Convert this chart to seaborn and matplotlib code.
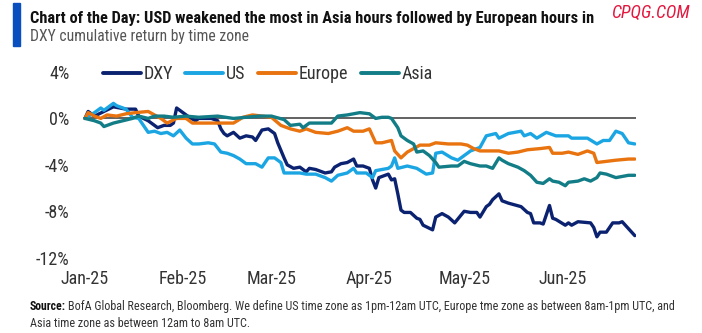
import matplotlib
matplotlib.use("Agg")
import matplotlib.pyplot as plt
import matplotlib.dates as mdates
from matplotlib import font_manager as fm
import numpy as np
import pandas as pd
import seaborn as sns

# Cumulative return of DXY by trading session, % (days counted from 1 Jan 2025)
dxy_days = [0, 1, 3, 6, 9, 11, 13, 16, 17, 20, 21, 23, 25, 27, 28, 29, 31, 33, 35, 36,
            40, 42, 43, 44, 45, 47, 49, 51, 53, 54, 56, 58, 60, 61, 63, 64, 66, 68, 70, 71,
            73, 76, 78, 79, 81, 83, 85, 86, 88, 90, 91, 92, 93, 96, 97, 98, 99, 100, 101, 103,
            105, 106, 107, 110, 111, 113, 115, 117, 120, 122, 124, 125, 127, 128, 129, 131, 132, 134, 138, 140,
            141, 142, 144, 145, 147, 148, 149, 152, 153, 154, 156, 160, 161, 162, 163, 165, 167, 169, 170, 172,
            174]
dxy_vals = [0, 0.6, 0.2, 0.6, 1.0, 0.9, 0.8, 0.8, 0.2, -0.2, -0.4, -0.8, -0.6, -0.6, -0.4, 0.9, 0.5, 0.1, -0.2, 0,
            0, -0.2, -0.9, -1.3, -1.5, -1.2, -1.7, -1.5, -1.6, -1.9, -1.0, -0.9, -1.3, -2.1, -3.4, -4.0, -4.3, -4.2, -4.6, -4.3,
            -4.4, -4.7, -4.6, -4.2, -3.9, -3.8, -3.5, -4.1, -4.1, -4.3, -5.3, -6.0, -5.1, -4.8, -5.3, -5.2, -6.5, -7.9, -8.1, -8.1,
            -8.6, -8.7, -9.2, -9.6, -8.5, -8.2, -8.5, -9.0, -8.0, -8.1, -8.1, -8.5, -7.6, -7.4, -7.0, -6.5, -7.1, -7.3, -7.6, -8.1,
            -8.2, -9.0, -9.0, -9.1, -7.5, -8.6, -8.7, -9.2, -9.0, -9.2, -8.9, -9.0, -9.4, -10.2, -9.8, -9.8, -9.0, -9.0, -8.9, -9.5,
            -10.1]

us_days = [0, 3, 5, 6, 9, 10, 13, 15, 17, 20, 22, 24, 26, 28, 30, 32, 34, 36, 39, 41,
           43, 45, 47, 49, 51, 54, 56, 58, 60, 62, 63, 66, 68, 70, 73, 76, 78, 80, 83, 85,
           86, 89, 91, 92, 96, 97, 98, 99, 102, 105, 108, 110, 111, 113, 116, 118, 120, 122, 125, 127,
           130, 131, 134, 138, 139, 141, 143, 146, 149, 153, 154, 159, 162, 164, 166, 168, 170, 172, 174]
us_vals = [0, 0.5, 0.9, 0.7, 1.3, 1.1, 0.8, 0.1, 0.0, -1.2, -1.1, -1.3, -1.2, -1.5, -1.0, -1.7, -2.2, -2.2, -2.1, -2.2,
           -2.9, -3.0, -3.2, -3.5, -3.9, -3.9, -4.2, -3.4, -3.4, -3.8, -4.7, -4.7, -4.7, -4.8, -4.8, -5.1, -5.4, -4.9, -4.7, -4.3,
           -4.7, -4.7, -5.1, -4.5, -4.3, -4.1, -3.4, -4.3, -4.1, -4.3, -4.8, -4.7, -3.0, -2.9, -3.4, -3.6, -3.2, -2.8, -2.5, -1.5,
           -1.3, -1.7, -1.3, -1.1, -1.5, -1.3, -1.7, -1.2, -1.5, -1.5, -1.7, -1.7, -2.2, -1.9, -1.9, -1.1, -1.3, -2.1, -2.2]

europe_days = [0, 1, 3, 5, 7, 10, 13, 16, 20, 22, 24, 26, 29, 32, 34, 36, 41, 43, 47, 50,
               53, 56, 59, 62, 65, 68, 70, 73, 77, 80, 83, 85, 88, 90, 92, 94, 97, 98, 100, 102,
               104, 106, 109, 111, 115, 119, 121, 123, 125, 128, 131, 134, 137, 140, 144, 147, 148, 151, 153, 156,
               159, 161, 162, 165, 168, 172, 174]
europe_vals = [0, 0.5, 0.2, 0.0, 0.3, 0.2, 0.4, 0.5, 0.6, 0.3, 0.0, -0.4, 0.0, 0.0, -0.4, -0.4, -0.4, -0.4, -0.4, 0.1,
               0.3, 0.2, 0.1, -0.6, -0.9, -1.1, -0.9, -1.2, -1.3, -1.1, -0.8, -1.1, -1.1, -0.9, -2.1, -2.1, -1.9, -2.8, -3.4, -2.9,
               -2.6, -2.3, -2.3, -2.1, -2.2, -2.2, -2.3, -2.6, -2.8, -2.8, -2.8, -3.0, -2.9, -2.7, -2.6, -2.5, -3.0, -3.0, -2.9, -3.1,
               -2.8, -3.0, -3.8, -3.7, -3.6, -3.5, -3.5]

asia_days = [0, 3, 5, 6, 9, 12, 15, 17, 20, 22, 25, 28, 32, 36, 42, 47, 51, 55, 59, 63,
             65, 68, 69, 71, 74, 78, 80, 83, 85, 87, 90, 92, 94, 96, 97, 99, 100, 102, 104, 105,
             107, 109, 111, 112, 116, 118, 120, 122, 125, 127, 129, 131, 132, 134, 137, 139, 141, 143, 145, 147,
             148, 150, 152, 153, 156, 158, 160, 162, 163, 165, 168, 172, 174]
asia_vals = [0, -0.2, -0.4, -0.7, -0.4, -0.2, 0.0, 0.2, 0.0, 0.2, 0.2, 0.1, 0.2, 0.1, 0.2, 0.0, 0.1, 0.2, 0.2, -0.1,
             -0.6, -0.5, -0.8, -0.4, -0.4, -0.4, 0.2, 0.3, 0.4, 0.5, 0.4, 0.0, 0.1, 0.1, 0.0, -0.8, -1.5, -1.9, -2.2, -2.9,
             -2.8, -3.2, -3.8, -4.2, -4.1, -4.1, -3.7, -3.9, -4.1, -4.1, -4.3, -3.4, -3.6, -3.9, -4.2, -4.5, -4.9, -5.5, -5.6, -5.2,
             -5.4, -5.5, -5.8, -5.5, -5.4, -5.2, -5.4, -5.1, -4.7, -4.8, -5.1, -4.9, -4.9]

series_names = ["DXY", "US", "Europe", "Asia"]
series_colors = ["#0b2270", "#1ba6e3", "#e8730f", "#127d86"]
y_ticks = [4, 0, -4, -8, -12]
month_ticks = ["2025-01-01", "2025-02-01", "2025-03-01", "2025-04-01", "2025-05-01", "2025-06-01"]

title_text = "Chart of the Day: USD weakened the most in Asia hours followed by European hours in"
subtitle_text = "DXY cumulative return by time zone"
source_label = "Source:"
source_line1 = ("BofA Global Research, Bloomberg. We define US time zone as 1pm-12am UTC, "
                "Europe tme zone as between 8am-1pm UTC, and")
source_line2 = "Asia time zone as between 12am to 8am UTC."
watermark = "CPQG.COM"

start = pd.Timestamp("2025-01-01")
frames = []
for name, days, vals in [("DXY", dxy_days, dxy_vals), ("US", us_days, us_vals),
                         ("Europe", europe_days, europe_vals), ("Asia", asia_days, asia_vals)]:
    frames.append(pd.DataFrame({
        "date": start + pd.to_timedelta(days, unit="D"),
        "ret": vals,
        "zone": name,
    }))
df = pd.concat(frames, ignore_index=True)

sns.set_theme(style="white")

# Prefer a narrow sans face when one is installed
installed = {f.name for f in fm.fontManager.ttflist}
narrow_choices = ["Liberation Sans Narrow", "Roboto Condensed", "Open Sans Condensed",
                  "Noto Sans Condensed", "DejaVu Sans Condensed", "Roboto", "Liberation Sans"]
base_font = next((f for f in narrow_choices if f in installed), "DejaVu Sans")
plt.rcParams["font.family"] = [base_font, "DejaVu Sans"]

fig = plt.figure(figsize=(7.02, 3.33), dpi=100)
W, H = 702, 333
ax = fig.add_axes([83.4 / W, 1 - 257.7 / H, (636.4 - 83.4) / W, (257.7 - 72) / H])

ax.axhline(0, color="#555555", lw=1.3, zorder=1)
sns.lineplot(data=df, x="date", y="ret", hue="zone", hue_order=series_names,
             palette=dict(zip(series_names, series_colors)), linewidth=2.4,
             ax=ax, legend=False, zorder=3)

ax.set_xlim(start - pd.Timedelta(hours=12), start + pd.Timedelta(days=174.5))
ax.set_ylim(-12, 4)
ax.set_yticks(y_ticks)
ax.set_yticklabels([f"{t}%" for t in y_ticks])
ax.set_xticks(pd.to_datetime(month_ticks))
ax.xaxis.set_major_formatter(mdates.DateFormatter("%b-%y"))
ax.tick_params(axis="both", length=0, labelsize=13, labelcolor="#333333")
ax.tick_params(axis="x", pad=9)
ax.tick_params(axis="y", pad=10)
ax.set_xlabel("")
ax.set_ylabel("")
for s in ax.spines.values():
    s.set_visible(False)
ax.grid(False)

handles = [plt.Line2D([], [], color=c, lw=2.8) for c in series_colors]
ax.legend(handles, series_names, loc="center left", bbox_to_anchor=(0.012, 0.99),
          ncol=4, frameon=False, fontsize=13, handlelength=2.1, handletextpad=0.15,
          columnspacing=0.7, labelcolor="#333333", borderaxespad=0.3)

renderer = fig.canvas.get_renderer()


def fitted_text(x_px, y_px, s, size, max_w, **kw):
    """Place text at a pixel position, shrinking it until it fits max_w pixels."""
    t = fig.text(x_px / W, 1 - y_px / H, s, fontsize=size, va="baseline", **kw)
    while t.get_window_extent(renderer).width > max_w and size > 5:
        size -= 0.25
        t.set_fontsize(size)
    return t


# Header
fig.patches.append(plt.Rectangle((12.5 / W, 1 - 46 / H), 7 / W, 43 / H,
                                 transform=fig.transFigure, color="#0a4fc0"))
fitted_text(30, 22.5, title_text, 13, 569, fontweight="bold", color="#111111")
fitted_text(30, 41.5, subtitle_text, 12.5, 221, color="#555555")
fitted_text(611, 18, watermark, 13, 82, style="italic", color="#e3173e")

# Footer
src = fitted_text(30, 310, source_label, 9.5, 37, fontweight="bold", color="#111111")
bb = src.get_window_extent(renderer)
fitted_text(bb.x1 + 2, 310, source_line1, 9.5, 680 - bb.x1 - 2, color="#333333")
fitted_text(30, 327, source_line2, 9.5, 222, color="#333333")

fig.savefig("out.png", dpi=100)
